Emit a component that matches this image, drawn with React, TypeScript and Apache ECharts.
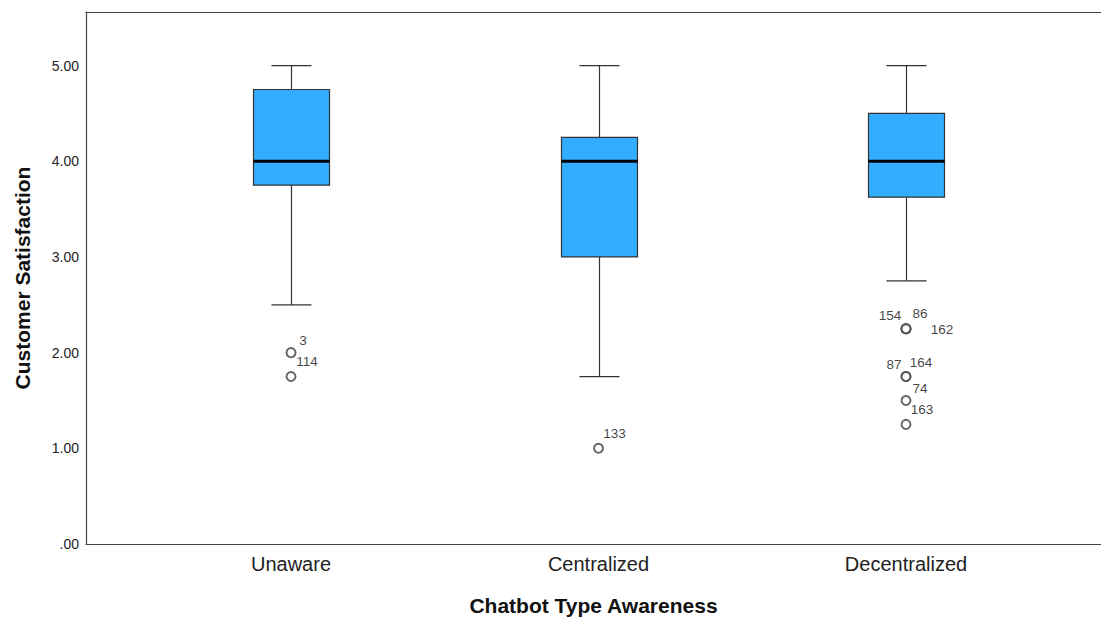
import { useEffect, useRef } from 'react';
import * as echarts from 'echarts';

// ---- Data ----
const categories = ['Unaware', 'Centralized', 'Decentralized'];
const whiskerLow = [2.5, 1.75, 2.75];
const quartile1 = [3.75, 3.0, 3.625];
const medians = [4.0, 4.0, 4.0];
const quartile3 = [4.75, 4.25, 4.5];
const whiskerHigh = [5.0, 5.0, 5.0];

const outlierGroup = [0, 0, 1, 2, 2, 2, 2, 2, 2, 2];
const outlierValue = [2.0, 1.75, 1.0, 2.25, 2.25, 2.25, 1.75, 1.75, 1.5, 1.25];
const outlierId = ['3', '114', '133', '154', '86', '162', '87', '164', '74', '163'];

const yTicks = [0, 1, 2, 3, 4, 5];

// ---- Styles (label placement relative to point) ----
const labelOffsets: Record<string, [number, number]> = {
  '3': [12, -12],
  '114': [16, -15],
  '133': [16, -15],
  '154': [-16, -13],
  '86': [14, -15],
  '162': [36, 1],
  '87': [-12, -12],
  '164': [15, -14],
  '74': [14, -12],
  '163': [16, -15],
};

const FONT = "'Liberation Sans', Arial, sans-serif";
const GRID_LEFT = 86;
const GRID_RIGHT = 0;
const CAT_SPACING = 307.5;
const X_MIN = 1 - 205 / CAT_SPACING;
const X_MAX = X_MIN + (1101 - GRID_LEFT - GRID_RIGHT) / CAT_SPACING;

export default function App() {
  const ref = useRef<HTMLDivElement>(null);

  useEffect(() => {
    if (!ref.current) return;
    const chart = echarts.init(ref.current, undefined, { renderer: 'svg' });

    const boxData = categories.map((_, i) => [
      i + 1,
      whiskerLow[i],
      quartile1[i],
      medians[i],
      quartile3[i],
      whiskerHigh[i],
    ]);

    const outlierData = outlierValue.map((v, i) => ({
      name: outlierId[i],
      value: [outlierGroup[i] + 1, v],
      label: { offset: labelOffsets[outlierId[i]] || [12, -12] },
    }));

    const option: any = {
      animation: false,
      backgroundColor: '#ffffff',
      grid: { left: GRID_LEFT, right: GRID_RIGHT, top: 12, bottom: 75, containLabel: false },
      xAxis: [
        {
          type: 'value',
          min: X_MIN,
          max: X_MAX,
          position: 'bottom',
          splitLine: { show: false },
          axisTick: { show: false },
          axisLine: { show: true, onZero: false, lineStyle: { color: '#444', width: 1.2 } },
          axisLabel: {
            customValues: [1, 2, 3],
            formatter: (v: number) => categories[Math.round(v) - 1] ?? '',
            color: '#222',
            fontSize: 20,
            fontFamily: FONT,
            margin: 10,
          },
          name: 'Chatbot Type Awareness',
          nameLocation: 'middle',
          nameGap: 51,
          nameTextStyle: { color: '#111', fontSize: 21, fontWeight: 'bold', fontFamily: FONT },
        },
        {
          type: 'value',
          min: X_MIN,
          max: X_MAX,
          position: 'top',
          splitLine: { show: false },
          axisTick: { show: false },
          axisLabel: { show: false },
          axisLine: { show: true, onZero: false, lineStyle: { color: '#444', width: 1.2 } },
        },
      ],
      yAxis: {
        type: 'value',
        min: 0,
        max: 5.56,
        interval: 1,
        splitLine: { show: false },
        axisTick: { show: false },
        axisLine: { show: true, onZero: false, lineStyle: { color: '#444', width: 1.2 } },
        axisLabel: {
          customValues: yTicks,
          formatter: (v: number) => (v === 0 ? '.00' : v.toFixed(2)),
          color: '#222',
          fontSize: 14,
          fontFamily: FONT,
          margin: 7,
        },
        name: 'Customer Satisfaction',
        nameLocation: 'middle',
        nameGap: 53,
        nameTextStyle: { color: '#111', fontSize: 21, fontWeight: 'bold', fontFamily: FONT },
      },
      series: [
        {
          type: 'custom',
          xAxisIndex: 0,
          data: boxData,
          encode: { x: 0, y: [1, 2, 3, 4, 5] },
          renderItem: (_params: any, api: any) => {
            const x = api.value(0);
            const pLow = api.coord([x, api.value(1)]);
            const pQ1 = api.coord([x, api.value(2)]);
            const pMed = api.coord([x, api.value(3)]);
            const pQ3 = api.coord([x, api.value(4)]);
            const pHigh = api.coord([x, api.value(5)]);
            const bw = 76;
            const cw = 40;
            const cx = Math.round(pMed[0]) + 0.5;
            const lineStyle = { stroke: '#333', lineWidth: 1.2 };
            return {
              type: 'group',
              children: [
                { type: 'line', shape: { x1: cx, y1: pHigh[1], x2: cx, y2: pQ3[1] }, style: lineStyle },
                { type: 'line', shape: { x1: cx, y1: pQ1[1], x2: cx, y2: pLow[1] }, style: lineStyle },
                { type: 'line', shape: { x1: cx - cw / 2, y1: pHigh[1], x2: cx + cw / 2, y2: pHigh[1] }, style: lineStyle },
                { type: 'line', shape: { x1: cx - cw / 2, y1: pLow[1], x2: cx + cw / 2, y2: pLow[1] }, style: lineStyle },
                {
                  type: 'rect',
                  shape: { x: cx - bw / 2, y: pQ3[1], width: bw, height: pQ1[1] - pQ3[1] },
                  style: { fill: '#33adff', stroke: '#333', lineWidth: 1.2 },
                },
                {
                  type: 'line',
                  shape: { x1: cx - bw / 2, y1: pMed[1], x2: cx + bw / 2, y2: pMed[1] },
                  style: { stroke: '#000', lineWidth: 3 },
                },
              ],
            };
          },
          z: 2,
        },
        {
          type: 'scatter',
          xAxisIndex: 0,
          data: outlierData,
          symbol: 'emptyCircle',
          symbolSize: 9,
          itemStyle: { color: '#444', borderColor: '#444', borderWidth: 1.3 },
          label: {
            show: true,
            position: 'inside',
            formatter: (p: any) => p.name,
            color: '#111',
            textBorderWidth: 0,
            fontSize: 13.5,
            fontFamily: FONT,
          },
          emphasis: { disabled: true },
          z: 3,
        },
      ],
    };

    chart.setOption(option);
    return () => chart.dispose();
  }, []);

  return (
    <div
      ref={ref}
      style={{ position: 'fixed', left: 0, top: 0, width: 1101, height: 621, background: '#fff' }}
    />
  );
}
